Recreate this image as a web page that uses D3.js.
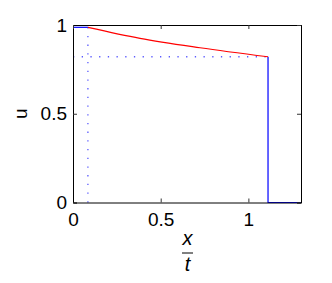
<!DOCTYPE html>
<html>
<head>
<meta charset="utf-8">
<script src="https://cdn.jsdelivr.net/npm/d3@7"></script>
<style>
  body { margin: 0; background: #fff; }
  text { font-family: 'Liberation Sans', Arial, sans-serif; }
</style>
</head>
<body>
<div id="chart"></div>
<script>
// values
const xTicks = [0, 0.5, 1]
const yTicks = [0, 0.5, 1]
const xFan = 0.085
const uLeft = 0.987
const xShock = 1.112
const uShock = 0.821
const redX = [0.085, 0.382, 0.724, 1.112]
const redU = [0.987, 0.925, 0.872, 0.821]

const margin = { top: 25, left: 73, right: 31, bottom: 80.5 }
const width = 332 - margin.left - margin.right
const height = 283 - margin.top - margin.bottom

const svg = d3
  .select('#chart')
  .append('svg')
  .attr('width', 332)
  .attr('height', 283)
  .append('g')
  .attr('transform', 'translate(' + margin.left + ',' + margin.top + ')')

const xPositionScale = d3.scaleLinear().domain([0, 1.3]).range([0, width])
const yPositionScale = d3.scaleLinear().domain([0, 1]).range([height, 0])

const line = d3
  .line()
  .x(d => xPositionScale(d[0]))
  .y(d => yPositionScale(d[1]))

// dotted guides
svg
  .append('path')
  .attr('d', line([[0, uShock], [xShock, uShock]]))
  .attr('stroke', '#5a5aff')
  .attr('stroke-width', 1.3)
  .attr('stroke-dasharray', '1.3,7.4')
  .attr('fill', 'none')
svg
  .append('path')
  .attr('d', line([[xFan, 0], [xFan, uLeft]]))
  .attr('stroke', '#5a5aff')
  .attr('stroke-width', 1.3)
  .attr('stroke-dasharray', '1.3,7.4')
  .attr('fill', 'none')

// blue pieces
svg
  .append('path')
  .attr('d', line([[0, uLeft], [xFan, uLeft]]))
  .attr('stroke', 'blue')
  .attr('stroke-width', 1.2)
  .attr('fill', 'none')
svg
  .append('path')
  .attr('d', line([[xShock, uShock], [xShock, 0], [1.3, 0]]))
  .attr('stroke', 'blue')
  .attr('stroke-width', 1.2)
  .attr('fill', 'none')

// red curve
svg
  .append('path')
  .attr('d', line.curve(d3.curveMonotoneX)(redX.map((x, i) => [x, redU[i]])))
  .attr('stroke', 'red')
  .attr('stroke-width', 1.2)
  .attr('fill', 'none')
line.curve(d3.curveLinear)

// axes, ticks pointing in, box all round
const x_axis = d3.axisBottom(xPositionScale).tickValues(xTicks).tickSize(-4).tickPadding(10).tickFormat(d3.format('~g'))
const y_axis = d3.axisLeft(yPositionScale).tickValues(yTicks).tickSize(-4).tickPadding(6).tickFormat(d3.format('~g'))

svg.append('g').attr('class', 'axis x-axis').attr('transform', 'translate(0,' + height + ')').call(x_axis)
svg.append('g').attr('class', 'axis y-axis').call(y_axis)
svg.append('g').attr('class', 'axis').call(d3.axisTop(xPositionScale).tickValues(xTicks).tickSize(-4).tickFormat(''))
svg.append('g').attr('class', 'axis').attr('transform', 'translate(' + width + ',0)').call(d3.axisRight(yPositionScale).tickValues(yTicks).tickSize(-4).tickFormat(''))

svg.selectAll('.axis path').attr('stroke', '#000').attr('stroke-width', 1)
svg.selectAll('.axis line').attr('stroke', '#333')
svg.selectAll('.axis text').attr('font-size', 19).attr('fill', '#000')
  .attr('font-family', "'Liberation Sans', Arial, sans-serif")

// labels
svg
  .append('text')
  .attr('transform', 'translate(' + -46 + ',' + height / 2 + ') rotate(-90)')
  .attr('text-anchor', 'middle')
  .attr('font-size', 19)
  .text('u')

const frac = svg.append('g').attr('transform', 'translate(' + (width / 2 + 0.5) + ',' + (height + 50.5) + ')')
frac
  .append('text')
  .attr('y', -8.5)
  .attr('text-anchor', 'middle')
  .attr('font-family', "'Liberation Serif', serif")
  .attr('font-style', 'italic')
  .attr('font-size', 20)
  .text('x')
frac
  .append('line')
  .attr('x1', -5.5)
  .attr('x2', 5.5)
  .attr('stroke', '#000')
  .attr('stroke-width', 1)
frac
  .append('text')
  .attr('y', 17.5)
  .attr('text-anchor', 'middle')
  .attr('font-family', "'Liberation Serif', serif")
  .attr('font-style', 'italic')
  .attr('font-size', 20)
  .text('t')
</script>
</body>
</html>
